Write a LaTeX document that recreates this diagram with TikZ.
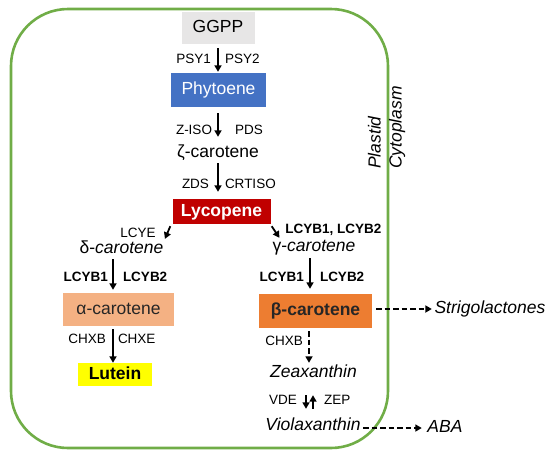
\documentclass[tikz,border=0pt]{standalone}
\usepackage{fontspec}
\setmainfont{Liberation Sans}
\usepackage{tikz}
\usetikzlibrary{arrows.meta, positioning}

\definecolor{plastidgreen}{HTML}{70AD47}
\definecolor{ggppgray}{HTML}{E7E6E6}
\definecolor{phyblue}{HTML}{4472C4}
\definecolor{lycred}{HTML}{C00000}
\definecolor{alphasalmon}{HTML}{F4B183}
\definecolor{betaorange}{HTML}{ED7D31}
\definecolor{luteinyellow}{HTML}{FFFF00}

\begin{document}
\begin{tikzpicture}[
    x=1pt, y=-1pt,
    txt/.style={font=\fontsize{17.5}{20}\selectfont, inner sep=1pt, text height=12.5pt, text depth=3.5pt},
    ital/.style={txt, font=\fontsize{17.5}{20}\selectfont\itshape},
    bold/.style={txt, font=\fontsize{17.5}{20}\selectfont\bfseries},
    lbl/.style={font=\fontsize{13.5}{16}\selectfont, inner sep=1pt},
    lblb/.style={lbl, font=\fontsize{13.5}{16}\selectfont\bfseries},
    flow/.style={-{Triangle[length=6.5pt, width=7pt]}, line width=2pt},
    dflow/.style={flow, dash pattern=on 5.5pt off 3pt}
]
\useasboundingbox (0,0) rectangle (550,456);
\draw[plastidgreen, line width=2.6pt, rounded corners=57pt] (11,9) rectangle (388,448);

\node[txt, fill=ggppgray, minimum width=73pt, minimum height=32pt] (ggpp) at (218,28) {GGPP};
\node[txt, fill=phyblue, text=white, minimum width=95pt, minimum height=34pt] (phytoene) at (218.5,90) {Phytoene};
\node[txt] (zcarotene) at (218,153) {ζ-carotene};
\node[bold, fill=lycred, text=white, minimum width=98pt, minimum height=25pt] (lycopene) at (221.5,211.5) {Lycopene};
\node[txt] (dcarotene) at (121.5,249) {δ-\textit{carotene}};
\node[txt] (gcarotene) at (314,247) {γ-\textit{carotene}};
\node[txt, fill=alphasalmon, text=black!85, minimum width=111pt, minimum height=33pt] (acarotene) at (118.5,309.5) {α-carotene};
\node[bold, fill=betaorange, text=black!85, minimum width=113pt, minimum height=34pt] (bcarotene) at (315.5,311) {β-carotene};
\node[bold, fill=luteinyellow, minimum width=74pt, minimum height=23pt] (lutein) at (115,374.5) {Lutein};
\node[ital] (zeaxanthin) at (313.5,373) {Zeaxanthin};
\node[ital] (violaxanthin) at (313,426) {Violaxanthin};
\node[ital] (strigolactones) at (490,309) {Strigolactones};
\node[ital] (aba) at (445,428) {ABA};
\node[ital, rotate=90, anchor=west] (plastid) at (376,170) {Plastid};
\node[ital, rotate=90, anchor=west] (cytoplasm) at (397,170) {Cytoplasm};

\draw[flow, shorten <=4pt, shorten >=1pt] (ggpp.south) -- (ggpp.south |- phytoene.north)
    node[lbl, midway, left=5pt] (psyone) {PSY1} node[lbl, midway, right=5pt] (psytwo) {PSY2};
\draw[flow, shorten <=6pt, shorten >=7pt] (ggpp.south |- phytoene.south) -- (ggpp.south |- zcarotene.north)
    node[lbl, pos=0.62, left=4pt] (ziso) {Z-ISO} node[lbl, pos=0.62, right=15pt] (pds) {PDS};
\draw[flow, shorten <=1pt, shorten >=7pt] (ggpp.south |- zcarotene.south) -- (ggpp.south |- lycopene.north)
    node[lbl, pos=0.6, left=7pt] (zds) {ZDS} node[lbl, pos=0.6, right=5pt] (crtiso) {CRTISO};
\draw[flow, line width=1.8pt, shorten >=1pt] ([shift={(-2,2)}]lycopene.south west) -- (dcarotene.north east)
    node[lbl, midway, left=10pt] (lcye) {LCYE};
\draw[flow, line width=1.8pt] ([shift={(1,2)}]lycopene.south east) -- ([xshift=8pt]gcarotene.north west)
    node[lblb, pos=0.35, right=9pt] (lcybboth) {LCYB1, LCYB2};
\draw[flow, shorten <=1pt, shorten >=3pt] ([xshift=-5.5pt]acarotene.north |- dcarotene.south) -- ([xshift=-5.5pt]acarotene.north)
    node[lblb, pos=0.55, left=3pt] (lcybonea) {LCYB1} node[lblb, pos=0.55, right=8pt] (lcybtwoa) {LCYB2};
\draw[flow, shorten <=2pt, shorten >=5pt] ([xshift=-5.5pt]bcarotene.north |- gcarotene.south) -- ([xshift=-5.5pt]bcarotene.north)
    node[lblb, pos=0.55, left=4pt] (lcyboneb) {LCYB1} node[lblb, pos=0.55, right=8pt] (lcybtwob) {LCYB2};
\draw[flow, shorten <=3pt] ([xshift=-5.5pt]acarotene.south) -- ([xshift=-5.5pt]acarotene.south |- lutein.north)
    node[lbl, pos=0.35, left=5pt] (chxba) {CHXB} node[lbl, pos=0.35, right=3pt] (chxe) {CHXE};
\draw[dflow, shorten <=3pt, shorten >=1pt] ([xshift=-6.5pt]bcarotene.south) -- ([xshift=-6.5pt]bcarotene.south |- zeaxanthin.north)
    node[lbl, pos=0.35, left=4pt] (chxbb) {CHXB};
\draw[flow, shorten <=13pt, shorten >=8pt] ([xshift=-7.5pt]zeaxanthin.south) -- ([xshift=-7.5pt]zeaxanthin.south |- violaxanthin.north)
    node[lbl, midway, left=7pt] (vde) {VDE};
\draw[flow, shorten <=8pt, shorten >=13pt] ([xshift=-0.5pt]zeaxanthin.south |- violaxanthin.north) -- ([xshift=-0.5pt]zeaxanthin.south)
    node[lbl, midway, right=9pt] (zep) {ZEP};
\draw[dflow, shorten <=4pt, shorten >=1.5pt] (bcarotene.east |- strigolactones.west) -- (strigolactones.west);
\draw[dflow, shorten <=1.5pt, shorten >=4.5pt] (violaxanthin.east |- aba.west) -- (aba.west);
\end{tikzpicture}
\end{document}
